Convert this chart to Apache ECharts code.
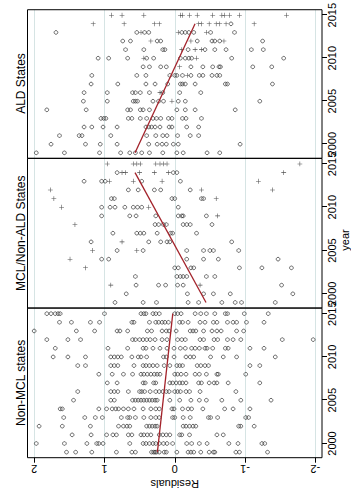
<!DOCTYPE html>
<html>
<head>
<meta charset="utf-8">
<script src="https://cdn.jsdelivr.net/npm/echarts@6/dist/echarts.min.js"></script>
<style>
  html, body { margin: 0; padding: 0; background: #fff; overflow: hidden; width: 351px; height: 495px; }
  #chart { position: absolute; left: 0; top: 0; width: 495px; height: 351px;
           transform-origin: 0 0; transform: translate(0px, 495px) rotate(-90deg); background: #fff; }
</style>
</head>
<body>
<div id="chart"></div>
<script>
// ---------------- data ----------------
const years = [1999, 2000, 2001, 2002, 2003, 2004, 2005, 2006, 2007, 2008, 2009, 2010, 2011, 2012, 2013, 2014, 2015];
const yearTicks = [2000, 2005, 2010, 2015];
const residualTicks = [-2, -1, 0, 1, 2];
const panelTitles = ['Non-MCL states', 'MCL/Non-ALD States', 'ALD States'];
const xTitle = 'year';
const yTitle = 'Residuals';

// residuals per year (rows follow `years`)
const nonMclCircles = [
  [1.54, 1.41, 1.18, 0.83, 0.61, 0.56, 0.33, 0.30, 0.28, 0.26, 0.22, 0.15, 0.12, -0.03, -0.19, -0.23, -0.27, -0.37, -0.49, -0.55, -0.57, -0.87, -0.92, -1.32],
  [1.97, 1.57, 1.25, 1.11, 1.08, 1.02, 0.64, 0.45, 0.41, 0.36, 0.31, 0.27, 0.22, 0.16, 0.11, 0.03, -0.17, -0.24, -0.35, -0.46, -0.77, -0.90, -1.24, -1.28],
  [1.46, 1.19, 0.97, 0.88, 0.83, 0.66, 0.61, 0.48, 0.44, 0.39, 0.34, 0.22, 0.17, 0.12, 0.07, -0.07, -0.10, -0.21, -0.60, -0.69],
  [1.93, 1.60, 1.20, 0.80, 0.73, 0.68, 0.64, 0.40, 0.36, 0.32, 0.28, 0.25, -0.12, -0.16, -0.21, -0.26, -0.30, -0.91, -0.94, -1.13],
  [1.58, 1.28, 1.13, 1.03, 0.76, 0.67, 0.64, 0.56, 0.44, 0.34, 0.27, 0.22, 0.03, 0.00, -0.12, -0.22, -0.48, -0.51, -0.61, -1.01, -1.05],
  [1.63, 1.60, 1.08, 0.97, 0.89, 0.84, 0.80, 0.73, 0.66, 0.58, 0.45, 0.34, 0.27, 0.22, 0.04, 0.01, -0.11, -0.19, -0.24, -0.40, -0.71, -0.83, -1.07],
  [1.44, 0.91, 0.86, 0.60, 0.56, 0.52, 0.48, 0.44, 0.40, 0.36, 0.32, 0.28, 0.25, 0.07, -0.07, -0.23, -0.35, -0.45, -0.67, -0.94, -1.37],
  [1.38, 0.91, 0.86, 0.81, 0.66, 0.50, 0.47, 0.43, 0.35, 0.27, 0.22, 0.17, 0.12, 0.08, 0.00, -0.04, -0.08, -0.16, -0.21, -0.36, -0.87],
  [0.96, 0.82, 0.45, 0.42, 0.30, 0.27, 0.07, 0.03, -0.02, -0.07, -0.11, -0.16, -0.34, -0.38, -0.49, -0.56, -0.60, -0.76, -1.21],
  [1.08, 0.89, 0.73, 0.60, 0.48, 0.44, 0.39, 0.34, 0.29, 0.25, 0.21, 0.00, -0.04, -0.09, -0.16, -0.29, -0.35, -0.45, -0.60, -0.62, -1.01],
  [1.38, 1.27, 0.91, 0.86, 0.81, 0.58, 0.45, 0.41, 0.36, 0.31, 0.25, 0.15, 0.07, -0.03, -0.07, -0.11, -0.32, -0.37, -0.43, -0.48, -1.07, -1.21],
  [1.73, 1.52, 1.27, 0.91, 0.86, 0.81, 0.76, 0.61, 0.52, 0.48, 0.40, 0.16, 0.12, 0.01, -0.16, -0.22, -0.27, -0.51, -0.69, -0.88, -1.43],
  [1.70, 0.95, 0.67, 0.45, 0.41, 0.31, 0.21, 0.11, 0.01, -0.08, -0.15, -0.24, -0.29, -0.35, -0.43, -0.46, -0.54, -0.72, -0.76, -1.07, -1.27],
  [1.82, 1.52, 1.34, 0.60, 0.56, 0.50, 0.45, 0.40, 0.35, 0.28, 0.18, 0.11, -0.04, -0.10, -0.15, -0.36, -0.41, -0.56, -0.61, -0.75, -0.83, -0.94, -1.53, -1.97],
  [2.00, 1.40, 1.14, 0.82, 0.78, 0.67, 0.39, 0.33, 0.18, 0.12, 0.08, -0.02, -0.22, -0.26, -0.30, -0.41, -0.53, -0.60, -0.66, -0.88, -0.98],
  [1.64, 1.47, 1.20, 1.07, 0.61, 0.58, 0.36, 0.27, 0.23, 0.18, 0.14, 0.09, -0.07, -0.11, -0.19, -0.36, -0.43, -0.55, -0.60, -0.75, -0.83, -0.88, -1.02, -1.27],
  [1.82, 1.76, 1.70, 1.66, 1.63, 1.00, 0.48, 0.44, 0.41, 0.31, 0.27, 0.22, 0.00, -0.04, -0.09, -0.29, -0.37, -0.45, -0.57, -0.72, -0.75, -0.99, -1.33]
];
const nonMclPlus = [[], [], [], [], [], [], [], [], [], [], [], [], [], [], [], [], []];

const mclCircles = [
  [0.85, 0.45, 0.26, -0.19, -0.34, -0.67, -0.86, -0.95, -1.43],
  [0.69, -0.18, -0.41, -0.55, -0.79, -1.68],
  [0.55, 0.23, 0.13, -0.04, -0.12, -1.52],
  [0.56, -0.03, -0.08, -0.12, -0.17, -0.45, -0.57],
  [0.00, -0.05, -0.23, -0.27, -0.92, -1.24, -1.66],
  [1.04, 0.94, -0.17, -0.41, -0.62, -1.47],
  [0.82, 0.45, -0.17, -0.41, -0.50, -0.55, -0.91],
  [1.19, 0.37, 0.20, 0.11, 0.07, -0.81],
  [0.88, 0.54, 0.49, 0.44, 0.25, 0.06, 0.03, -0.31],
  [0.28, 0.23, 0.16, 0.12, -0.12, -0.17, -0.22, -0.53],
  [1.04, 0.64, 0.55, 0.27, -0.05, -0.10, -0.12, -0.45],
  [1.04, 0.92, 0.85, 0.71, 0.59, 0.53, 0.47, -0.05],
  [0.90, 0.86, 0.04, 0.00, -0.38, -0.41],
  [0.66, 0.52, 0.29, 0.20, -0.22],
  [1.29, 1.04, 0.99, 0.47, -0.08],
  [0.82, 0.02, -0.03],
  []
];
const mclPlus = [
  [], [], [0.91, -0.36], [], [1.27], [1.49], [1.17, 0.54], [0.75], [], [1.42], [-0.61],
  [1.61, 0.37], [1.72, -0.59], [1.77, -0.38, -1.39], [0.93, 0.59, 0.18, -1.19],
  [0.75, 0.70, 0.50, 0.29, 0.09, -1.55],
  [0.96, 0.59, 0.54, 0.49, 0.27, 0.21, 0.16, 0.11, -1.78]
];

const aldCircles = [
  [1.97, 1.57, 1.07, 0.77, 0.64, 0.56, 0.47, 0.36, 0.17, -0.03, -0.12, -0.46, -0.64],
  [1.76, 1.27, 1.06, 0.82, 0.37, 0.25, 0.18, 0.12, 0.02, -0.05, -0.93],
  [1.64, 1.36, 1.32, 0.91, 0.40, 0.27, 0.17, 0.11, -0.04, -0.22, -0.34],
  [1.29, 1.18, 1.02, 0.82, 0.41, 0.37, 0.33, 0.28, 0.21, 0.08, 0.04, -0.17, -0.34],
  [1.05, 1.01, 0.98, 0.66, 0.61, 0.49, 0.40, 0.31, 0.26, 0.20, 0.09, 0.04, -0.11, -0.16, -0.38],
  [1.82, 1.26, 0.67, 0.63, 0.49, 0.45, 0.36, -0.03, -0.15, -0.29, -0.86],
  [1.30, 0.96, 0.59, 0.56, 0.53, 0.31, 0.23, 0.16, -0.05, -0.15, -1.21],
  [1.29, 0.96, 0.60, 0.56, 0.49, 0.36, 0.17, -0.07, -0.37],
  [1.19, 0.81, 0.41, 0.28, 0.10, -0.08, -0.11, -0.15, -0.29, -0.72, -0.75, -1.39],
  [1.18, 0.54, 0.41, 0.07, 0.00, -0.03, -0.11, -0.23, -0.35, -0.40, -0.53, -0.60, -0.64],
  [0.45, 0.36, 0.20, 0.12, -0.23, -0.40, -0.54, -0.63, -0.65, -1.11, -1.38],
  [1.09, 0.94, 0.67, 0.40, 0.30, -0.08, -0.15, -0.20, -0.24, -0.81, -1.55],
  [0.70, 0.44, 0.17, 0.14, -0.19, -0.43, -0.57, -0.73, -1.09, -1.26],
  [0.74, 0.63, 0.25, 0.20, -0.32, -0.53, -0.57, -0.64, -1.25],
  [1.69, 0.54, 0.43, 0.37, -0.10, -0.15, -0.20, -0.27, -0.51, -0.85],
  [-0.80],
  []
];
const aldPlus = [
  [], [], [], [], [], [], [0.04], [0.21], [], [-0.18], [-0.07], [0.44, -0.31],
  [-0.10, -0.29, -0.38], [0.34, -0.23, -0.70], [0.48, -0.05, -0.45],
  [1.16, 0.72, 0.29, 0.22, -0.34, -0.38, -0.49, -0.59, -0.64, -0.73, -1.13],
  [0.90, 0.75, 0.44, -0.08, -0.11, -0.21, -0.32, -0.54, -0.67, -0.71, -0.78, -0.92, -1.59]
];

// fitted trend lines: [year, residual]
const nonMclFit = [[1999, 0.247], [2015, 0.028]];
const mclFit = [[1999, -0.445], [2014, 0.565]];
const aldFit = [[1999, 0.565], [2014, -0.289]];

// ---------------- chart ----------------
const FONT = 'Liberation Sans, Arial, Helvetica, sans-serif';
const panels = [
  { circles: nonMclCircles, plus: nonMclPlus, fit: nonMclFit },
  { circles: mclCircles, plus: mclPlus, fit: mclFit },
  { circles: aldCircles, plus: aldPlus, fit: aldFit }
];
const gridLefts = [37.3, 187, 336.7];
const gridWidth = 149.6;
const gridTop = 27.5;
const gridHeight = 294.5;

function toPoints(rows) {
  const out = [];
  rows.forEach((vals, i) => vals.forEach(v => out.push([years[i], v])));
  return out;
}

const plusPath = 'path://M-0.12,-1 L0.12,-1 L0.12,-0.12 L1,-0.12 L1,0.12 L0.12,0.12 L0.12,1 L-0.12,1 L-0.12,0.12 L-1,0.12 L-1,-0.12 L-0.12,-0.12 Z';

const grid = [], xAxis = [], yAxis = [], series = [], graphic = [];
panels.forEach((p, i) => {
  grid.push({ left: gridLefts[i], top: gridTop, width: gridWidth, height: gridHeight,
              show: true, borderColor: '#000', borderWidth: 1, backgroundColor: 'transparent', z: 5 });
  xAxis.push({
    type: 'value', gridIndex: i, min: 1998.36, max: 2015.64,
    axisLine: { show: false, onZero: false },
    axisTick: { show: true, length: 5, customValues: yearTicks, lineStyle: { color: '#000', width: 1 } },
    axisLabel: { show: true, customValues: yearTicks, fontSize: 11, color: '#000', margin: 4, fontFamily: FONT,
                 formatter: v => String(v) },
    splitLine: { show: false }
  });
  yAxis.push({
    type: 'value', gridIndex: i, min: -2.095, max: 2.095, splitNumber: 4,
    axisLine: { show: false, onZero: false },
    axisTick: { show: i === 0, length: 5, customValues: residualTicks, lineStyle: { color: '#000', width: 1 } },
    axisLabel: { show: i === 0, customValues: residualTicks, rotate: 90, fontSize: 11, color: '#000', margin: 6, fontFamily: FONT },
    splitLine: { show: true, lineStyle: { color: '#d6e4e4', width: 1 } }
  });
  series.push({
    type: 'scatter', xAxisIndex: i, yAxisIndex: i, data: toPoints(p.circles), z: 3,
    symbol: 'circle', symbolSize: 3.7,
    itemStyle: { color: 'rgba(0,0,0,0)', borderColor: '#262626', borderWidth: 0.85 }
  });
  series.push({
    type: 'scatter', xAxisIndex: i, yAxisIndex: i, data: toPoints(p.plus), z: 3,
    symbol: plusPath, symbolSize: 4.8,
    itemStyle: { color: '#262626' }
  });
  series.push({
    type: 'line', xAxisIndex: i, yAxisIndex: i, data: p.fit, z: 4,
    showSymbol: false, symbol: 'none',
    lineStyle: { color: '#a3232b', width: 1.3 }
  });
  graphic.push({ type: 'text', x: gridLefts[i] + gridWidth / 2, y: 20.5,
    style: { text: panelTitles[i], fontSize: 12, fill: '#000', align: 'center', verticalAlign: 'middle', fontFamily: FONT } });
});
graphic.push({ type: 'text', x: 11, y: gridTop + gridHeight / 2, rotation: Math.PI / 2,
  style: { text: yTitle, fontSize: 11, fill: '#000', align: 'center', verticalAlign: 'middle', fontFamily: FONT } });
graphic.push({ type: 'text', x: 255, y: 344.5,
  style: { text: xTitle, fontSize: 11, fill: '#000', align: 'center', verticalAlign: 'middle', fontFamily: FONT } });

const chart = echarts.init(document.getElementById('chart'), null, { renderer: 'svg', width: 495, height: 351 });
chart.setOption({
  animation: false,
  backgroundColor: '#fff',
  textStyle: { fontFamily: FONT },
  grid, xAxis, yAxis, series, graphic
});
</script>
</body>
</html>
